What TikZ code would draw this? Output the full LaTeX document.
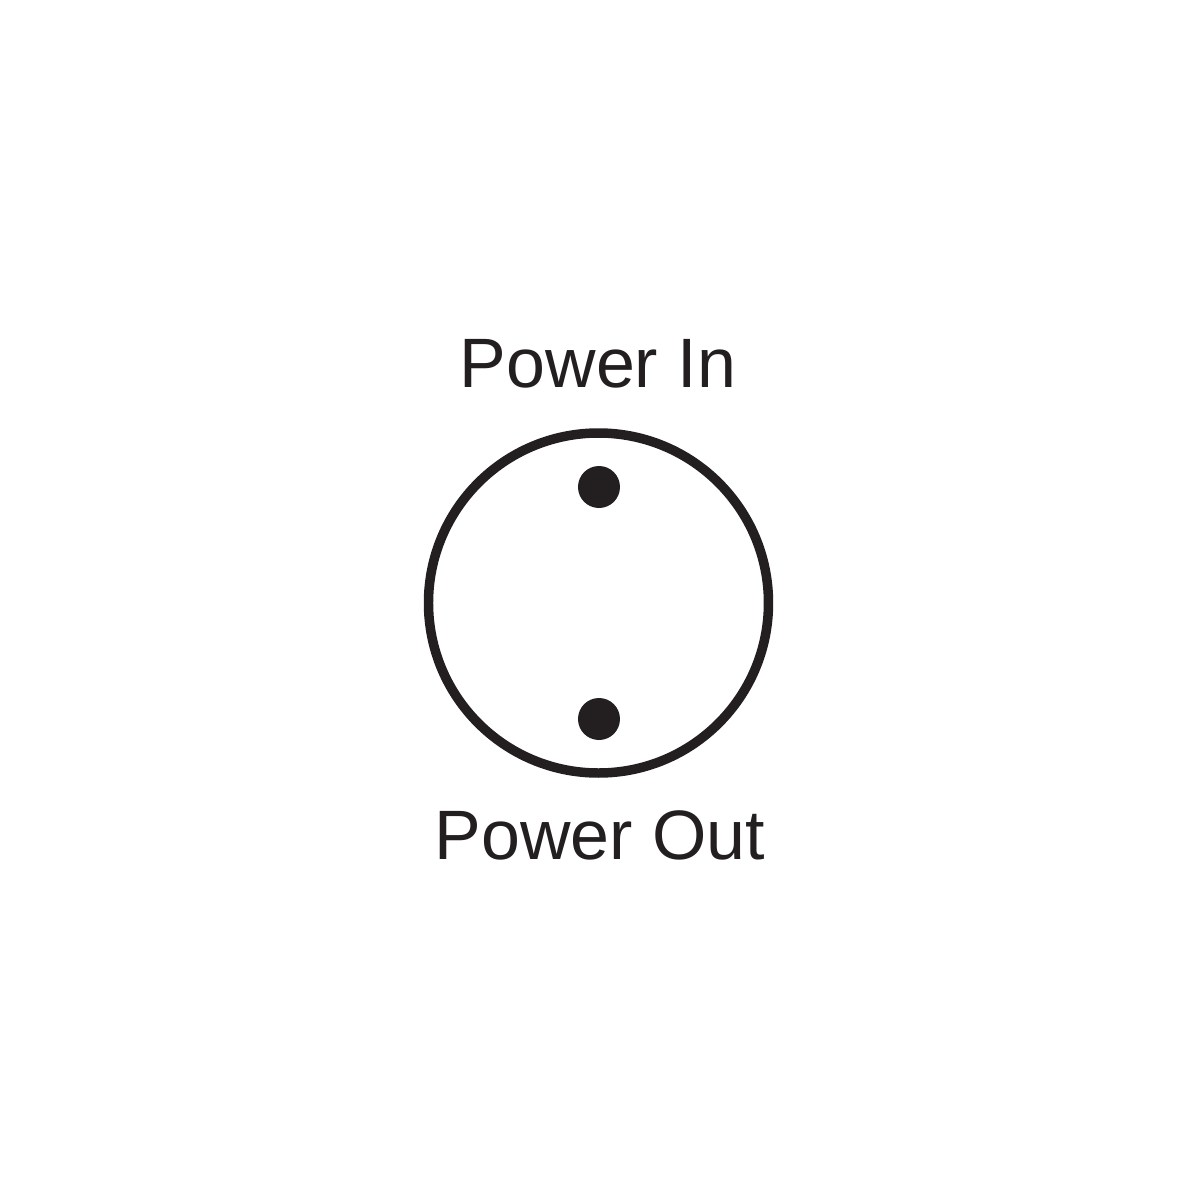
\documentclass[tikz,border=0pt]{standalone}
\usepackage{fontspec}
\setmainfont{Liberation Sans}
\usepackage{tikz}
\usetikzlibrary{positioning}
\definecolor{ink}{HTML}{231F20}

\begin{document}
\begin{tikzpicture}
				\tikzset{socket/.style={circle,draw=ink,line width=2.7pt,minimum size=3.4cm,inner sep=0pt}}
				\tikzset{pin/.style={circle,fill=ink,minimum size=0.42cm,inner sep=0pt}}
				\tikzset{caption/.style={anchor=base,text=ink,inner sep=0pt,font=\fontsize{19.9}{24}\selectfont}}
				\useasboundingbox (-6,-6) rectangle (6,6);
				\node[socket] (plug) at (-0.015,-0.03) {};
				\node[pin] (pinin) at (-0.01,1.13) {};
				\node[pin] (pinout) at (-0.01,-1.19) {};
				\node[caption] (powerin) at (-0.02,2.13) {Power In};
				\node[caption] (powerout) at (0,-2.59) {Power Out};
			\end{tikzpicture}
\end{document}
